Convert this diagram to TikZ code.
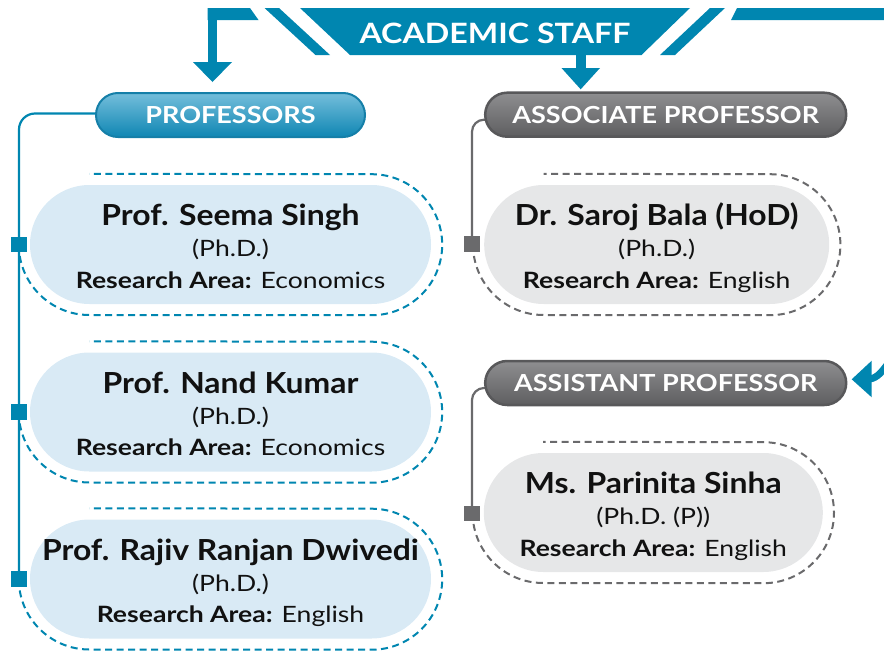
\documentclass[tikz,border=0pt]{standalone}
\usepackage{fontspec}
\setmainfont{Lato}[FakeStretch=1.15]
\newfontfamily\namefam{Lato}[FakeStretch=1.1]
\newfontfamily\detfam{Lato}[FakeStretch=1.18]
\usetikzlibrary{calc}
\definecolor{ablue}{HTML}{0086B0}
\definecolor{cardblue}{HTML}{D9EAF5}
\definecolor{cardgray}{HTML}{E6E7E8}
\definecolor{dashgray}{HTML}{6A6A6C}
\definecolor{pillgrayb}{HTML}{58585A}
\definecolor{pillgrayt}{HTML}{8E8E90}
\definecolor{pillgraybot}{HTML}{5E5E60}
\definecolor{pillbluet}{HTML}{74BEDB}
\definecolor{pillbluebot}{HTML}{0F86B3}
\definecolor{pillblueb}{HTML}{157FA8}
\definecolor{txt}{HTML}{111111}
\pgfdeclarelayer{bg}
\pgfsetlayers{bg,main}
\tikzset{
  namefont/.style={font=\namefam\fontsize{29}{30}\selectfont\bfseries},
  detfont/.style={font=\detfam\fontsize{22.5}{23}\selectfont},
  pillfont/.style={font=\fontsize{23.5}{24}\selectfont\bfseries},
  bluepill/.style={draw=pillblueb, line width=2pt, top color=pillbluet, bottom color=pillbluebot,
    rounded corners=22pt, minimum height=44pt, inner sep=0pt, text=white, pillfont},
  graypill/.style={draw=pillgrayb, line width=2.5pt, top color=pillgrayt, bottom color=pillgraybot,
    rounded corners=22pt, minimum height=44pt, inner sep=0pt, text=white, pillfont},
  bluecard/.style={fill=cardblue, rounded corners=59.5pt, minimum height=119pt, inner sep=0pt},
  graycard/.style={fill=cardgray, rounded corners=59.5pt, minimum height=119pt, inner sep=0pt},
  bluedash/.style={draw=ablue, line width=2pt, dash pattern=on 7pt off 4.5pt},
  graydash/.style={draw=dashgray, line width=2pt, dash pattern=on 7pt off 4.5pt},
  bline/.style={draw=ablue, line width=2.2pt},
  gline/.style={draw=dashgray, line width=2.2pt},
  bsq/.style={fill=ablue, minimum size=15.5pt, inner sep=0pt},
  gsq/.style={fill=dashgray, minimum size=15.5pt, inner sep=0pt},
  linetext/.style={anchor=base, inner sep=0pt, text=txt},
}
% #1 id, #2 card style, #3 dash style, #4 cx, #5 cy, #6 width, #7 name, #8 degree, #9 area
\newcommand\staffcard[9]{%
  \node[#2, minimum width=#6pt] (#1) at (#4,#5) {};
  \draw[#3] ($(#1.west)+(-11,0)$) arc[start angle=180,end angle=90,radius=70.5]
     -- ($(#1.south east)+(-59.5,11)$) arc[start angle=90,end angle=-90,radius=70.5]
     -- ($(#1.north west)+(59.5,-11)$);
  \node[linetext, namefont] (#1n) at ($(#1.center)+(0,-18.8)$) {#7};
  \node[linetext, detfont] (#1d) at ($(#1.center)+(0,12.2)$) {#8};
  \node[linetext, detfont] (#1a) at ($(#1.center)+(0,43.8)$) {\textbf{Research Area:} #9};
}
\begin{document}
\begin{tikzpicture}[x=1pt,y=-1pt]
\useasboundingbox (0,0) rectangle (884,651);
% header
\fill[ablue] (207.5,8) -- (250,8) -- (258.5,20) -- (207.5,20) -- cycle;
\fill[ablue] (208.3,19) rectangle (216.7,63);
\fill[ablue] (193,62) -- (232,62) -- (212.5,82) -- cycle;
\fill[ablue] (264.5,8) -- (279,8) -- (330,55) -- (315.5,55) -- cycle;
\fill[ablue] (300,8) -- (690,8) -- (641.5,55) -- (350,55) -- cycle;
\fill[ablue] (710,8) -- (725,8) -- (675,55) -- (660,55) -- cycle;
\fill[ablue] (737,8) -- (884,8) -- (884,20) -- (731,20) -- cycle;
\node[text=white, font=\fontsize{28}{28}\selectfont\bfseries, inner sep=0pt] (hdr) at (495,33) {ACADEMIC STAFF};
\fill[ablue] (576,54) rectangle (586,69);
\fill[ablue] (561.5,68) -- (600,68) -- (580.7,89.3) -- cycle;
% pills
\node[bluepill, minimum width=269pt] (pro) at (230.5,115) {PROFESSORS};
\node[graypill, minimum width=361pt] (ap) at (665.7,114.7) {ASSOCIATE PROFESSOR};
\node[graypill, minimum width=361pt] (sp) at (665.7,383) {ASSISTANT PROFESSOR};
% right arrow
\fill[ablue] (851.7,379.3) -- (871.7,360.7) -- (871.7,397.3) -- cycle;
\draw[ablue, line width=7pt] (866,379.3) .. controls (876,379.3) and (880,374) .. (887,365);
% cards
\staffcard{c1}{bluecard}{bluedash}{230.5}{244.5}{401}{Prof. Seema Singh}{(Ph.D.)}{Economics}
\staffcard{c2}{bluecard}{bluedash}{230.5}{412}{401}{Prof. Nand Kumar}{(Ph.D.)}{Economics}
\staffcard{c3}{bluecard}{bluedash}{230.5}{579}{401}{Prof. Rajiv Ranjan Dwivedi}{(Ph.D.)}{English}
\staffcard{c4}{graycard}{graydash}{656.7}{244.5}{345}{Dr. Saroj Bala (HoD)}{(Ph.D.)}{English}
\staffcard{c5}{graycard}{graydash}{653.3}{512.5}{339}{Ms. Parinita Sinha}{(Ph.D. (P))}{English}
% squares
\node[bsq] (q1) at (19,244.5) {};
\node[bsq] (q2) at (19,412) {};
\node[bsq] (q3) at (19,579) {};
\node[gsq] (g1) at (472,244) {};
\node[gsq] (g2) at (472,513.7) {};
% connectors
\begin{pgfonlayer}{bg}
\draw[bline, rounded corners=16pt] ($(pro.west)+(1,-1.5)$) -| (q3.center);
\draw[gline, rounded corners=12pt] ($(ap.west)+(2,5)$) -| (g1.center);
\draw[gline, rounded corners=12pt] ($(sp.west)+(2,5)$) -| (g2.center);
\end{pgfonlayer}
\end{tikzpicture}
\end{document}
